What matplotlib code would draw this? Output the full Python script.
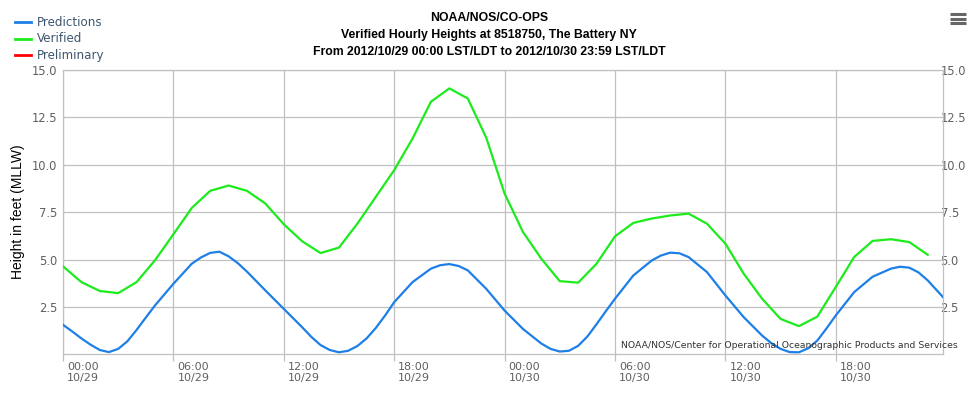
import numpy as np
import matplotlib
matplotlib.use("Agg")
import matplotlib.pyplot as plt
import matplotlib.transforms as mtransforms
from matplotlib.lines import Line2D

# datos (horas desde 2012/10/29 00:00)
pred_horas = [0, 0.5, 1, 1.5, 2, 2.5, 3, 3.5, 4, 4.5, 5, 6, 7, 7.5, 8, 8.5, 9,
              9.5, 10, 11, 12, 13, 13.5, 14, 14.5, 15, 15.5, 16, 16.5, 17, 17.5,
              18, 19, 20, 20.5, 21, 21.5, 22, 23, 24, 25, 26, 26.5, 27, 27.5, 28,
              28.5, 29, 29.5, 30, 31, 32, 32.5, 33, 33.5, 34, 35, 36, 37, 38,
              38.5, 39, 39.5, 40, 40.5, 41, 41.5, 42, 43, 44, 45, 45.5, 46, 46.5,
              47, 47.83]
pred_altura = [1.57, 1.22, 0.85, 0.52, 0.24, 0.13, 0.3, 0.7, 1.3, 1.95, 2.59,
               3.73, 4.79, 5.12, 5.36, 5.42, 5.18, 4.82, 4.37, 3.38, 2.41, 1.44,
               0.93, 0.5, 0.24, 0.12, 0.2, 0.45, 0.85, 1.4, 2.05, 2.76, 3.82,
               4.53, 4.71, 4.77, 4.67, 4.44, 3.47, 2.32, 1.35, 0.58, 0.3, 0.16,
               0.2, 0.46, 0.95, 1.6, 2.28, 2.94, 4.17, 4.96, 5.22, 5.37, 5.34,
               5.14, 4.35, 3.12, 1.97, 1.0, 0.6, 0.3, 0.13, 0.12, 0.33, 0.74,
               1.38, 2.06, 3.29, 4.1, 4.53, 4.63, 4.58, 4.33, 3.91, 3.03]

ver_horas = list(range(48))
ver_altura = [4.65, 3.82, 3.35, 3.24, 3.82, 4.97, 6.34, 7.73, 8.63, 8.91, 8.63,
              7.96, 6.87, 5.97, 5.35, 5.64, 6.9, 8.31, 9.72, 11.39, 13.33, 14.03,
              13.5, 11.44, 8.49, 6.46, 5.05, 3.87, 3.79, 4.79, 6.23, 6.94, 7.17,
              7.33, 7.43, 6.9, 5.85, 4.26, 2.94, 1.88, 1.5, 2.0, 3.56, 5.14, 5.99,
              6.08, 5.93, 5.26]

xticks = [0, 6, 12, 18, 24, 30, 36, 42]
xlabels = ["00:00\n10/29", "06:00\n10/29", "12:00\n10/29", "18:00\n10/29",
           "00:00\n10/30", "06:00\n10/30", "12:00\n10/30", "18:00\n10/30"]
yticks = [2.5, 5.0, 7.5, 10.0, 12.5, 15.0]

azul = "#1E7FE6"
verde = "#1CEB1C"
rojo = "#FF0000"
gris = "#C0C0C0"
texto = "#606060"

fig = plt.figure(figsize=(9.78, 3.93), dpi=100)
ax = fig.add_axes([63 / 978, 1 - 354 / 393, 880 / 978, 284 / 393])

ax.plot(pred_horas, pred_altura, color=azul, lw=1.6, zorder=3,
        solid_joinstyle="round")
ax.plot(ver_horas, ver_altura, color=verde, lw=1.6, zorder=3)

ax.set_xlim(0, 47.83)
ax.set_ylim(0.03, 15)

ax.set_yticks(yticks)
ax.set_yticklabels(["%.1f" % v for v in yticks])
ax.set_xticks(xticks)
ax.set_xticklabels(xlabels)
ax.grid(True, color=gris, lw=0.9)
ax.set_axisbelow(True)
for s in ax.spines.values():
    s.set_color(gris)
    s.set_linewidth(0.9)

ax.tick_params(axis="y", length=0, pad=4, labelsize=8.3, labelcolor=texto,
               right=False, labelright=True)
ax.tick_params(axis="x", length=5, width=0.9, color=gris, pad=0.5,
               labelsize=8, labelcolor=texto)

# etiquetas derechas encima del borde
desp = mtransforms.ScaledTranslation(-8 / 100, 0, fig.dpi_scale_trans)
for tick in ax.yaxis.get_major_ticks():
    tick.label2.set_transform(tick.label2.get_transform() + desp)
desp_x = mtransforms.ScaledTranslation(4 / 100, 0, fig.dpi_scale_trans)
for t in ax.get_xticklabels():
    t.set_horizontalalignment("left")
    t.set_multialignment("left")
    t.set_transform(t.get_transform() + desp_x)

ax.set_ylabel("Height in feet (MLLW)", fontsize=10, color="black", labelpad=5,
              family="Liberation Sans")

# titulo
titulos = ["NOAA/NOS/CO-OPS",
           "Verified Hourly Heights at 8518750, The Battery NY",
           "From 2012/10/29 00:00 LST/LDT to 2012/10/30 23:59 LST/LDT"]
for i, tt in enumerate(titulos):
    fig.text(0.5, 1 - (18 + 17 * i) / 393, tt, ha="center", va="center",
             fontsize=8.8, fontweight="bold", family="Liberation Sans")

# leyenda
for i, (nom, col) in enumerate([("Predictions", azul), ("Verified", verde),
                                 ("Preliminary", rojo)]):
    yy = 1 - (22 + 16.5 * i) / 393
    fig.add_artist(Line2D([15 / 978, 31 / 978], [yy, yy], color=col, lw=2))
    fig.text(37 / 978, yy, nom, ha="left", va="center", fontsize=8.6,
             color="#3E576F")

# creditos
fig.text(958 / 978, 1 - 345 / 393,
         "NOAA/NOS/Center for Operational Oceanographic Products and Services",
         ha="right", va="center", fontsize=6.7, color="#333333")

# menu
for k in range(3):
    yy = 1 - (14 + 4.5 * k) / 393
    fig.add_artist(Line2D([950 / 978, 966 / 978], [yy, yy], color="#666666",
                          lw=2.2, solid_capstyle="butt"))

fig.savefig("out.png", dpi=100)
